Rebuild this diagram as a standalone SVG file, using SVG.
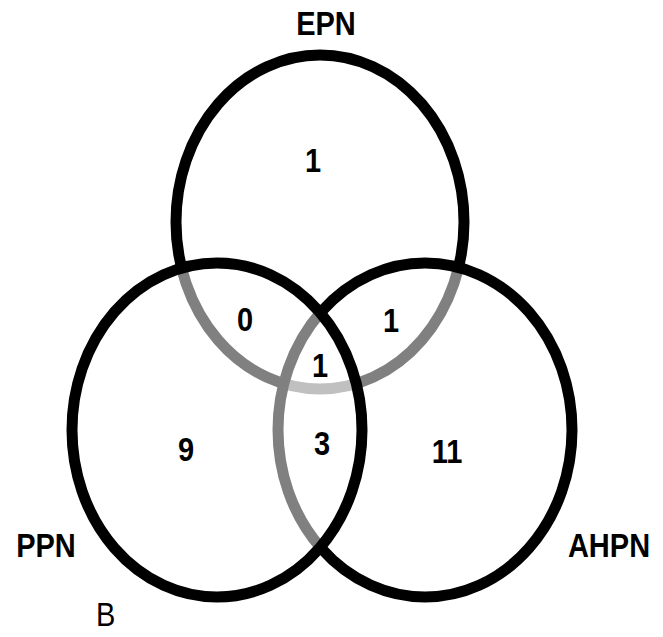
<svg xmlns="http://www.w3.org/2000/svg" width="663" height="637" viewBox="0 0 663 637">
<style>
.ring{stroke:#000;stroke-width:11}
.veil{fill:#fff;fill-opacity:0.5}
.lbl{font-family:"Liberation Sans",Arial,sans-serif;font-size:29px;font-weight:bold;fill:#000;text-anchor:middle}
.reg{font-family:"Liberation Sans",Arial,sans-serif;font-size:29px;fill:#000}
</style>
<rect width="663" height="637" fill="#fff"/>
<g id="EPN">
<ellipse class="ring" cx="320" cy="222" rx="144" ry="167" fill="none"/>
<text class="lbl" transform="translate(326,35) scale(1,1.15)">EPN</text>
</g>
<g id="AHPN">
<ellipse class="ring veil" cx="425" cy="430" rx="147" ry="167"/>
<text class="lbl" transform="translate(609,557) scale(1,1.15)">AHPN</text>
</g>
<g id="PPN">
<ellipse class="ring veil" cx="217" cy="430" rx="145" ry="167"/>
<text class="lbl" transform="translate(46,557) scale(1,1.15)">PPN</text>
</g>
<g id="connectors"></g>
<g id="counts">
<text class="lbl" transform="translate(313,172) scale(1,1.15)">1</text>
<text class="lbl" transform="translate(245,331) scale(1,1.15)">0</text>
<text class="lbl" transform="translate(391,332) scale(1,1.15)">1</text>
<text class="lbl" transform="translate(320,377) scale(1,1.15)">1</text>
<text class="lbl" transform="translate(186,461) scale(1,1.15)">9</text>
<text class="lbl" transform="translate(322,455) scale(1,1.15)">3</text>
<text class="lbl" transform="translate(447,463) scale(1,1.15)">11</text>
</g>
<text class="reg" transform="translate(96,626) scale(1,1.15)">B</text>
</svg>
